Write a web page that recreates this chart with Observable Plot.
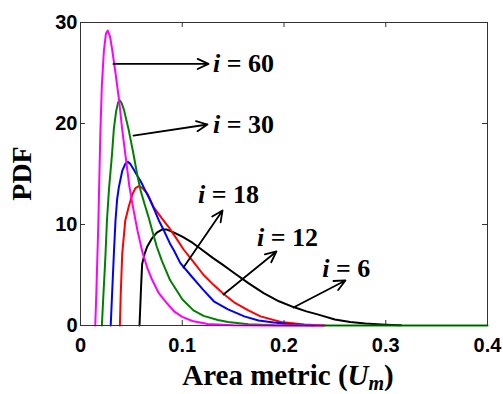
<!DOCTYPE html>
<html><head><meta charset="utf-8">
<script src="https://cdn.jsdelivr.net/npm/d3@7"></script>
<script src="https://cdn.jsdelivr.net/npm/@observablehq/plot@0.6"></script>
<style>html,body{margin:0;padding:0;background:#fff}svg{display:block}</style>
</head><body><div id="chart"></div>
<script>
// ---- data ----
const seriesNames = ["i = 6", "i = 12", "i = 18", "i = 30", "i = 60"];
const seriesColors = ["#000000", "#ff0000", "#0000ff", "#008000", "#ff00ff"];

const pdf_i6 = [[0.058,0],[0.0588,2],[0.0596,4],[0.0606,6.1],[0.063,7.1],[0.0655,7.8],[0.07,8.6],[0.075,9.2],[0.08,9.5],[0.085,9.5],[0.092,9.2],[0.1,8.8],[0.11,8.2],[0.118,7.6],[0.13,6.7],[0.14,6.0],[0.151,5.2],[0.165,4.2],[0.18,3.2],[0.195,2.4],[0.21,1.8],[0.222,1.4],[0.233,1.1],[0.25,0.6],[0.265,0.35],[0.28,0.2],[0.3,0.08],[0.315,0.02]];
const pdf_i12 = [[0.0387,0],[0.0395,3],[0.041,7.1],[0.044,10.4],[0.0475,11.8],[0.051,13.0],[0.054,13.6],[0.0573,13.8],[0.061,13.6],[0.066,13.0],[0.072,11.7],[0.08,10.6],[0.087,9.7],[0.095,8.5],[0.1015,7.5],[0.111,6.3],[0.121,5.0],[0.131,4.0],[0.141,3.1],[0.151,2.3],[0.165,1.5],[0.177,0.9],[0.197,0.35],[0.22,0.1],[0.24,0]];
const pdf_i18 = [[0.0297,0],[0.031,3],[0.0328,7.1],[0.0344,10.4],[0.036,12.5],[0.0377,13.7],[0.041,15.3],[0.044,16.0],[0.0465,16.2],[0.049,16.0],[0.052,15.5],[0.056,14.8],[0.059,14.3],[0.064,13.3],[0.068,12.5],[0.072,11.6],[0.077,10.4],[0.082,9.4],[0.088,8.1],[0.092,7.4],[0.098,6.2],[0.108,5.0],[0.12,3.6],[0.131,2.4],[0.145,1.6],[0.161,0.9],[0.175,0.5],[0.19,0.3],[0.21,0.1],[0.23,0]];
const pdf_i30 = [[0.021,0],[0.0225,3],[0.0238,5.5],[0.0246,7.1],[0.026,10.4],[0.028,13.5],[0.031,17],[0.0328,19.5],[0.035,21.2],[0.037,22.1],[0.0386,22.3],[0.0405,22.0],[0.0426,21.4],[0.0475,19.3],[0.052,17],[0.056,14.8],[0.059,13.4],[0.063,12],[0.067,10.7],[0.071,9.2],[0.075,7.8],[0.08,6.4],[0.088,4.5],[0.1,2.6],[0.111,1.5],[0.121,0.95],[0.135,0.55],[0.145,0.35],[0.165,0.12],[0.19,0.03],[0.22,0],[0.4,0]];
const pdf_i60 = [[0.0145,0],[0.0155,3],[0.0165,6.5],[0.0175,10],[0.0185,14.5],[0.0195,19],[0.021,23.8],[0.023,27.2],[0.025,28.9],[0.0268,29.2],[0.029,28.6],[0.031,27.4],[0.0344,25],[0.0378,22.4],[0.041,19.4],[0.044,17],[0.048,13.8],[0.052,11.5],[0.056,9.4],[0.061,7.2],[0.066,5.6],[0.0705,4.5],[0.077,3.2],[0.085,2.2],[0.092,1.4],[0.1,0.85],[0.11,0.45],[0.125,0.15],[0.15,0.03],[0.18,0],[0.238,0]];

const xTicks = [0, 0.1, 0.2, 0.3, 0.4];
const yTicks = [0, 10, 20, 30];

// annotation arrows (tail -> head) and label anchors, in data units
const annoLabels = ["60", "30", "18", "12", "6"];
const annoTail = [[0.0324,25.9],[0.0521,18.8],[0.1012,5.74],[0.1405,3.07],[0.2093,1.78]];
const annoHead = [[0.1258,25.9],[0.1248,19.9],[0.1396,11.39],[0.1926,7.33],[0.2604,4.46]];
const annoText = [[0.1307,25.9],[0.1307,19.8],[0.116,12.9],[0.174,8.6],[0.238,5.6]];

// ---- build tables ----
const allSeries = [pdf_i6, pdf_i12, pdf_i18, pdf_i30, pdf_i60];
const rows = allSeries.flatMap((pts, k) => pts.map(([x, y]) => ({series: seriesNames[k], x, y})));
const arrows = annoLabels.map((l, k) => ({x1: annoTail[k][0], y1: annoTail[k][1], x2: annoHead[k][0], y2: annoHead[k][1]}));

const W = 503, H = 394, mL = 80, mR = 16, mT = 22, mB = 69;
const tickPxX = 5 * 0.4 / (W - mL - mR);
const tickPxY = 5 * 30 / (H - mT - mB);

const chart = Plot.plot({
  width: W, height: H,
  marginLeft: mL, marginRight: mR, marginTop: mT, marginBottom: mB,
  style: {background: "#fff", color: "#000"},
  x: {domain: [0, 0.4]},
  y: {domain: [0, 30]},
  color: {domain: seriesNames, range: seriesColors},
  marks: [
    Plot.axisX(xTicks, {tickSize: 0, tickPadding: 12, fontSize: 20, fontWeight: "bold", fontFamily: "Liberation Sans, Arial, sans-serif", tickFormat: d => String(d), label: null}),
    Plot.axisY(yTicks, {tickSize: 0, tickPadding: 3, fontSize: 20, fontWeight: "bold", fontFamily: "Liberation Sans, Arial, sans-serif", tickFormat: d => String(d), label: null}),
    Plot.ruleX(xTicks.slice(1, -1), {x: d => d, y1: 0, y2: tickPxY, stroke: "#333"}),
    Plot.ruleX(xTicks.slice(1, -1), {x: d => d, y1: 30, y2: 30 - tickPxY, stroke: "#333"}),
    Plot.ruleY(yTicks.slice(1, -1), {y: d => d, x1: 0, x2: tickPxX, stroke: "#333"}),
    Plot.ruleY(yTicks.slice(1, -1), {y: d => d, x1: 0.4, x2: 0.4 - tickPxX, stroke: "#333"}),
    Plot.line(rows, {x: "x", y: "y", z: "series", stroke: "series", strokeWidth: 2, curve: "linear"}),
    Plot.frame({stroke: "#333", strokeWidth: 1}),
    Plot.arrow(arrows, {x1: "x1", y1: "y1", x2: "x2", y2: "y2", stroke: "#000", strokeWidth: 1.8, headLength: 10, headAngle: 50, bend: 0})
  ]
});
document.getElementById("chart").append(chart);

// ---- rich text labels (italic i, subscript m) positioned via plot scales ----
const sx = chart.scale("x"), sy = chart.scale("y");
const svg = d3.select(chart);
const serif = "'Liberation Serif', 'Times New Roman', serif";
annoLabels.forEach((l, k) => {
  const t = svg.append("text")
    .attr("x", sx.apply(annoText[k][0])).attr("y", sy.apply(annoText[k][1]))
    .attr("dy", "0.32em").attr("text-anchor", "start")
    .attr("font-family", serif).attr("font-size", 26).attr("font-weight", "bold").attr("fill", "#000");
  t.append("tspan").attr("font-style", "italic").text("i");
  t.append("tspan").text(" = " + l);
});
const xl = svg.append("text")
  .attr("x", 288).attr("y", 385)
  .attr("text-anchor", "middle")
  .attr("font-family", serif).attr("font-size", 29).attr("font-weight", "bold").attr("fill", "#000");
xl.append("tspan").text("Area metric (");
xl.append("tspan").attr("font-style", "italic").text("U");
xl.append("tspan").attr("font-style", "italic").attr("font-size", 20).attr("dy", 5).text("m");
xl.append("tspan").attr("dy", -5).text(")");
svg.append("text")
  .attr("transform", `translate(31,${(sy.apply(0) + sy.apply(30)) / 2}) rotate(-90)`)
  .attr("text-anchor", "middle")
  .attr("font-family", serif).attr("font-size", 28).attr("font-weight", "bold").attr("fill", "#000")
  .text("PDF");
</script>
</body></html>
